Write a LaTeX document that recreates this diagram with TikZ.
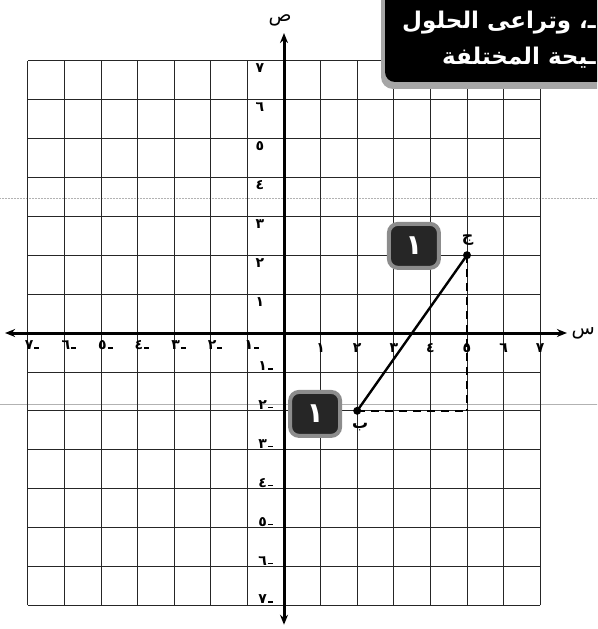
\documentclass[tikz,border=0pt]{standalone}
\usepackage{fontspec}
\newfontfamily\arabicfont[Script=Arabic]{DejaVu Sans}
\TeXXeTstate=1
\usetikzlibrary{arrows.meta, positioning}

\newcommand{\negmark}{\kern1pt\rule[1pt]{5pt}{1.5pt}}

\begin{document}
\begin{tikzpicture}[
    x=36.6pt, y=38.9pt,
    gridLine/.style={black!85, line width=0.7pt},
    axisLine/.style={{Stealth[length=10pt,width=8pt]}-{Stealth[length=10pt,width=8pt]}, line width=3pt},
    tickLabel/.style={font=\arabicfont\bfseries\fontsize{14}{16}\selectfont, inner sep=1pt},
    axisName/.style={font=\arabicfont\fontsize{19}{21}\selectfont, inner sep=1pt},
    segLine/.style={line width=2.4pt},
    projLine/.style={line width=2.4pt, dash pattern=on 8pt off 6pt},
    ptDot/.style={circle, fill=black, inner sep=0pt, minimum size=8pt},
    ptLabel/.style={font=\arabicfont\bfseries\fontsize{16}{18}\selectfont, inner sep=1pt},
    badge/.style={rounded corners=9pt, fill=black!85, draw=black!45, line width=4pt, minimum width=50pt, minimum height=44pt, text=white, font=\arabicfont\bfseries\fontsize{28}{30}\selectfont},
    bannerText/.style={text=white, font=\arabicfont\bfseries\fontsize{23}{25}\selectfont, inner sep=0pt},
    scanLine/.style={black!30, line width=0.5pt, densely dotted}
]
    % Page frame
    \useasboundingbox (-284pt,-296pt) rectangle (313pt,333pt);
    \clip (-284pt,-296pt) rectangle (313pt,333pt);

    % Scan marks
    \draw[scanLine] (-7.8,3.47) -- (8.6,3.47);
    \draw[scanLine, solid] (-7.8,-1.83) -- (8.6,-1.83);

    % Grid
    \foreach \i in {-7,...,7} {
        \draw[gridLine] (\i,-7) -- (\i,7);
        \draw[gridLine] (-7,\i) -- (7,\i);
    }

    % Axes
    \draw[axisLine] (-7.62,0) -- (7.73,0);
    \draw[axisLine] (0,-7.5) -- (0,7.71);
    \node[axisName] (yName) at (-4pt,313pt) {ص};
    \node[axisName, anchor=east] (xName) at (312pt,0) {س};

    % Tick labels
    \foreach \n/\d in {1/١,2/٢,3/٣,4/٤,5/٥,6/٦,7/٧} {
        \node[tickLabel] (xPos\n) at (\n,-0.38) {\d};
        \node[tickLabel] (xNeg\n) at (-\n+0.12,-0.32) {\d\negmark};
        \node[tickLabel] (yPos\n) at (-0.66,\n-0.2) {\d};
        \node[tickLabel] (yNeg\n) at (-0.5,-\n+0.15) {\d\negmark};
    }

    % Points and segment
    \node[ptDot] (b) at (2,-2) {};
    \node[ptDot] (j) at (5,2) {};
    \coordinate (k) at (5,-2);
    \node[ptLabel] (bName) at (2.08,-2.42) {ب};
    \node[ptLabel] (jName) at (5.02,2.4) {ج};

    \draw[projLine] (j.center) -- (k);
    \draw[projLine] (b.center) -- (k);
    \draw[segLine] (b.center) -- (j.center);

    % Badges
    \node[badge] (badgeA) at (3.55,2.24) {١};
    \node[badge] (badgeB) at (0.85,-2.08) {١};

    % Banner
    \fill[black!35, rounded corners=12pt] (97pt,345pt) rectangle (360pt,244pt);
    \fill[black, rounded corners=10pt] (101pt,345pt) rectangle (360pt,251pt);
    \node[bannerText, anchor=east] (bannerA) at (312pt,310pt) {\beginR ـ، وتراعى الحلول\endR};
    \node[bannerText, anchor=east] (bannerB) at (312pt,275pt) {\beginR ـيحة المختلفة\endR};
\end{tikzpicture}
\end{document}
